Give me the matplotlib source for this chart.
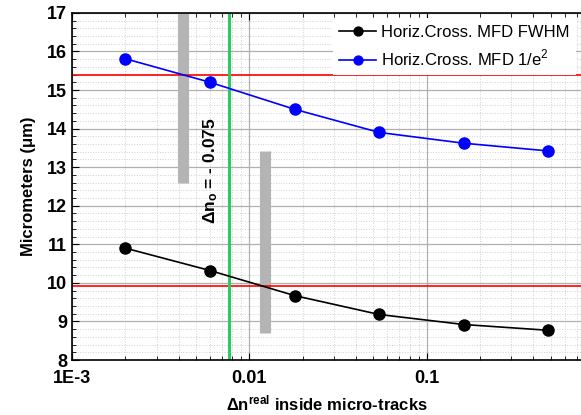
import numpy as np
import matplotlib
matplotlib.use("Agg")
import matplotlib.pyplot as plt
from matplotlib.ticker import FixedLocator, FixedFormatter, MultipleLocator, LogLocator, NullFormatter

plt.rcParams['font.family'] = ['Liberation Sans', 'DejaVu Sans']
plt.rcParams['mathtext.fontset'] = 'custom'
plt.rcParams['mathtext.rm'] = 'Liberation Sans'
plt.rcParams['mathtext.bf'] = 'Liberation Sans:bold'

# data
dn = [0.002, 0.006, 0.018, 0.054, 0.162, 0.486]
mfd_fwhm = [10.90, 10.32, 9.67, 9.18, 8.92, 8.77]
mfd_e2 = [15.81, 15.20, 14.50, 13.90, 13.62, 13.42]

red_levels = [15.39, 9.91]
green_x = 0.0077
gray_bars_x = [0.0042, 0.01225]
gray_bars_y = [(12.6, 17.0), (8.7, 13.42)]

xticks = [1e-3, 0.01, 0.1]
xticklabels = ["1E-3", "0.01", "0.1"]

fig = plt.figure(figsize=(5.81, 4.15), dpi=100)
ax = fig.add_axes([0.124, 0.1325, 0.876, 0.8365])

ax.set_xscale('log')
ax.set_xlim(1e-3, 10 ** (-0.13))
ax.set_ylim(8, 17)

# grid
ax.grid(which='major', color='#b0b0b0', linestyle='-', linewidth=0.9)
ax.yaxis.set_minor_locator(MultipleLocator(0.2))
ax.xaxis.set_minor_locator(LogLocator(base=10, subs=np.arange(2, 10)))
ax.xaxis.set_minor_formatter(NullFormatter())
ax.grid(which='minor', color='#d0d0d0', linestyle=':', linewidth=0.7)
ax.set_axisbelow(True)

# gray bars
for bx, (y0, y1) in zip(gray_bars_x, gray_bars_y):
    ax.plot([bx, bx], [y0, y1], color='#b4b4b4', linewidth=8, solid_capstyle='butt', zorder=2)

for lvl in red_levels:
    ax.axhline(lvl, color='red', linewidth=1.2, zorder=2)

ax.axvline(green_x, color='#2ec866', linewidth=2.2, zorder=2)
ax.text(green_x * 0.885, 12.9, r"$\mathbf{\Delta n_o}$ = - 0.075", rotation=90,
        ha='right', va='center', fontsize=12.5, fontweight='bold')

ax.plot(dn, mfd_fwhm, color='black', marker='o', markersize=8, linewidth=1.2,
        label='Horiz.Cross. MFD FWHM', zorder=3)
ax.plot(dn, mfd_e2, color='blue', marker='o', markersize=8, linewidth=1.2,
        label='Horiz.Cross. MFD 1/e$^2$', zorder=3)

ax.xaxis.set_major_locator(FixedLocator(xticks))
ax.xaxis.set_major_formatter(FixedFormatter(xticklabels))
ax.yaxis.set_major_locator(MultipleLocator(1))

ax.tick_params(which='both', direction='in', top=True, right=False)
ax.tick_params(which='major', length=5, labelsize=13)
ax.tick_params(axis='x', which='major', pad=7)
ax.tick_params(which='minor', length=3)
for lab in ax.get_xticklabels() + ax.get_yticklabels():
    lab.set_fontweight('bold')

ax.spines['right'].set_visible(False)
for s in ['left', 'bottom', 'top']:
    ax.spines[s].set_linewidth(1.2)

ax.set_xlabel(r"$\mathbf{\Delta n^{real}}$ inside micro-tracks", fontsize=12, fontweight='bold', labelpad=5)
ax.set_ylabel("Micrometers (\u03bcm)", fontsize=12, fontweight='bold', labelpad=8)

leg = ax.legend(loc='upper right', fontsize=12, frameon=True, fancybox=False,
                edgecolor='none', framealpha=1, borderaxespad=0.3, handlelength=2.2,
                markerscale=0.8, handletextpad=0.3)

fig.savefig("out.png", dpi=100)
